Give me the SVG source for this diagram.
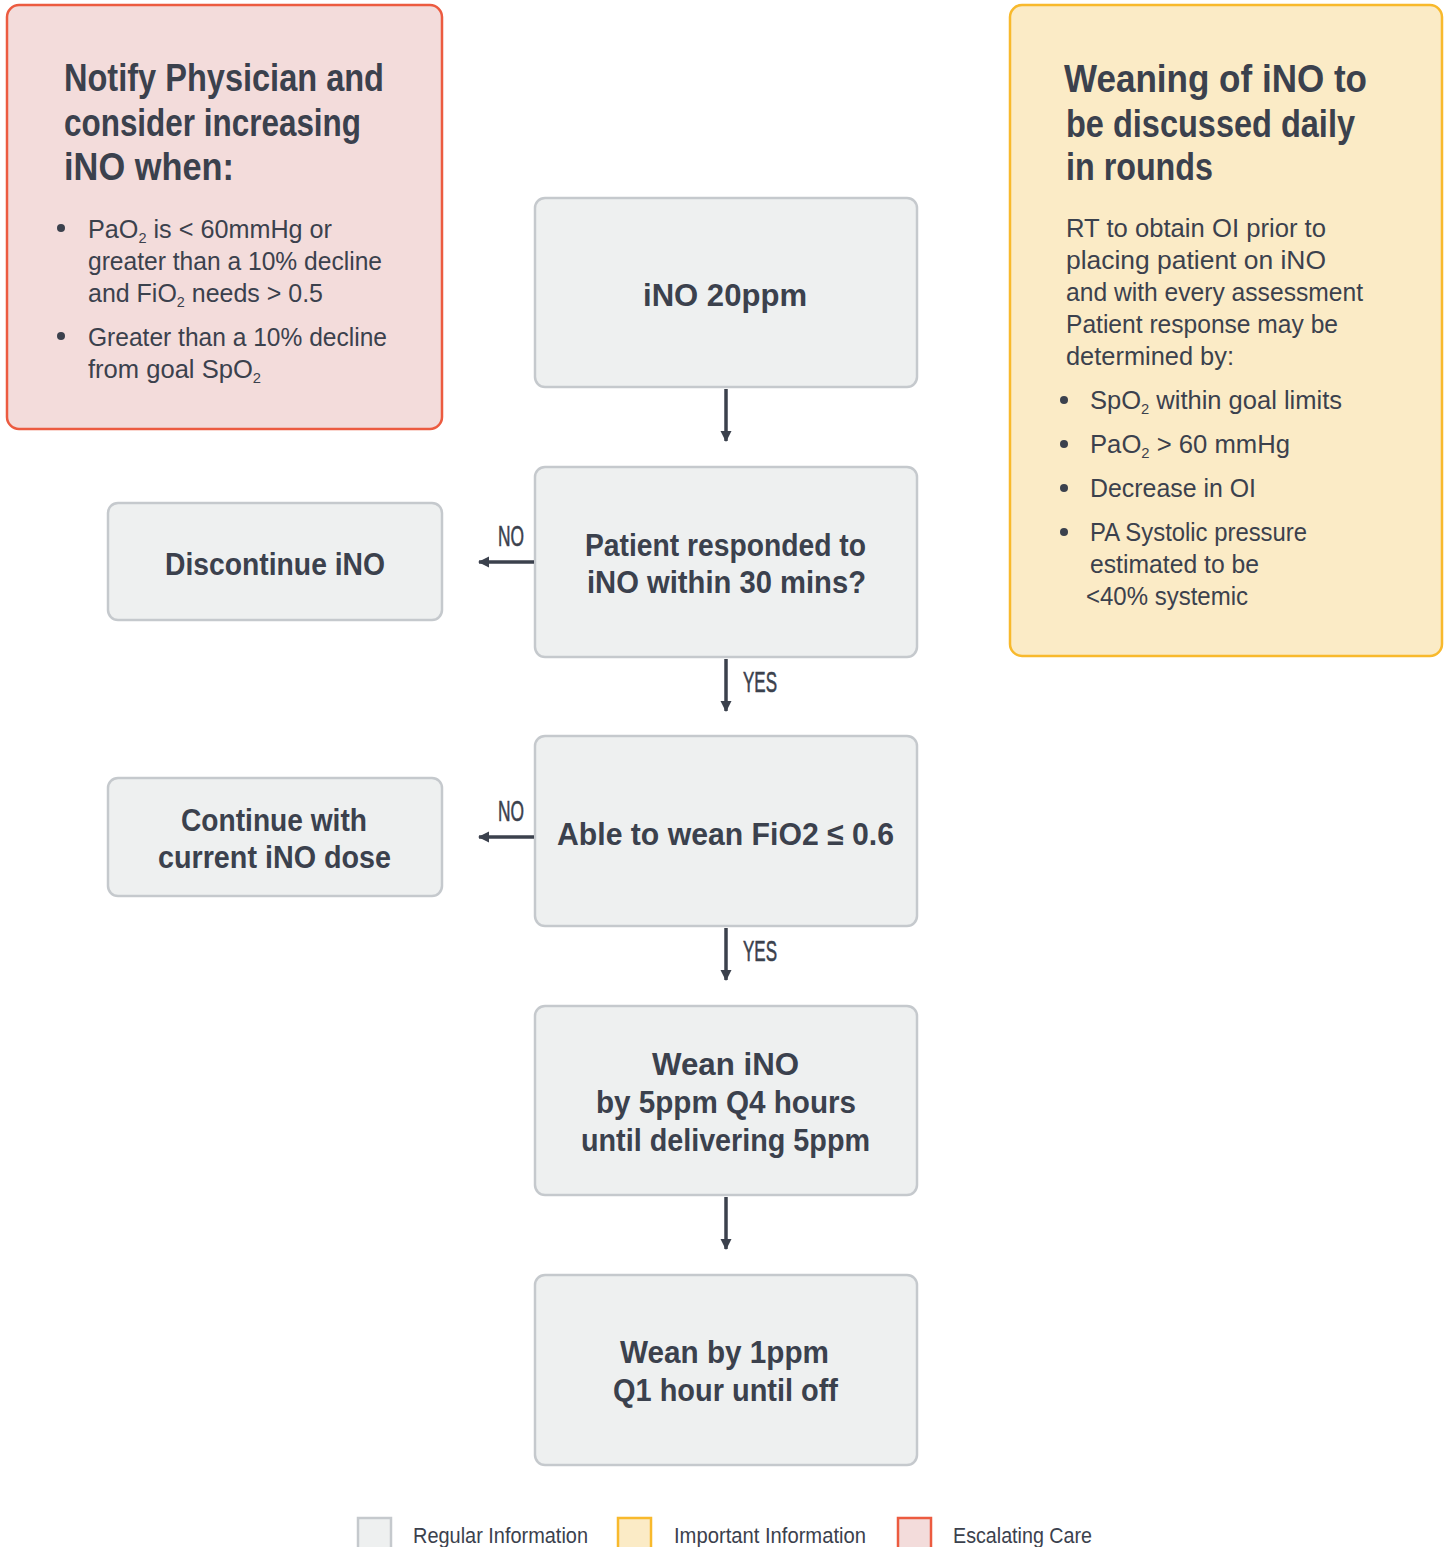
<svg xmlns="http://www.w3.org/2000/svg" width="1444" height="1547" viewBox="0 0 1444 1547">
<style>
.t{font-family:"Liberation Sans",Arial,sans-serif;fill:#3B414D}
.h{font-weight:bold;font-size:38px}
.n{font-weight:bold;font-size:32px}
.b{font-size:26px}
.lab{font-family:"Liberation Sans Narrow","Liberation Sans",Arial,sans-serif;font-size:30px;fill:#3B414D;stroke:#3B414D;stroke-width:0.6}
.lg{font-size:22px}
.gray{fill:#EEF0F0;stroke:#C5C9CD;stroke-width:2.5}
.pink{fill:#F3DCDB;stroke:#EC5B40;stroke-width:2.5}
.yel{fill:#FBEBC6;stroke:#F8B92C;stroke-width:2.5}
.conn{stroke:#3B414D;stroke-width:3.5;fill:none}
.dot{fill:#3B414D}
</style>
<defs>
<marker id="ah" markerWidth="12" markerHeight="12" refX="10" refY="6" orient="auto" markerUnits="userSpaceOnUse">
<path d="M0,0.5 L11,6 L0,11.5 Z" fill="#3B414D"/>
</marker>
</defs>
<rect width="1444" height="1547" fill="#FFFFFF"/>

<g id="escalate">
<rect class="pink" x="7" y="5" width="435" height="424" rx="12"/>
<text class="t h" x="64" y="91" textLength="320" lengthAdjust="spacingAndGlyphs">Notify Physician and</text>
<text class="t h" x="64" y="136" textLength="297" lengthAdjust="spacingAndGlyphs">consider increasing</text>
<text class="t h" x="64" y="180" textLength="170" lengthAdjust="spacingAndGlyphs">iNO when:</text>
<circle class="dot" cx="61" cy="228" r="4"/>
<circle class="dot" cx="61" cy="336" r="4"/>
<text class="t b" x="88" y="238" textLength="244" lengthAdjust="spacingAndGlyphs">PaO<tspan font-size="15" dy="5">2</tspan><tspan dy="-5"> is &lt; 60mmHg or</tspan></text>
<text class="t b" x="88" y="270" textLength="294" lengthAdjust="spacingAndGlyphs">greater than a 10% decline</text>
<text class="t b" x="88" y="302" textLength="235" lengthAdjust="spacingAndGlyphs">and FiO<tspan font-size="15" dy="5">2</tspan><tspan dy="-5"> needs &gt; 0.5</tspan></text>
<text class="t b" x="88" y="346" textLength="299" lengthAdjust="spacingAndGlyphs">Greater than a 10% decline</text>
<text class="t b" x="88" y="378" textLength="173" lengthAdjust="spacingAndGlyphs">from goal SpO<tspan font-size="15" dy="5">2</tspan></text>
</g>

<g id="weaning-note">
<rect class="yel" x="1010" y="5" width="432" height="651" rx="12"/>
<text class="t h" x="1064" y="92" textLength="303" lengthAdjust="spacingAndGlyphs">Weaning of iNO to</text>
<text class="t h" x="1066" y="137" textLength="289" lengthAdjust="spacingAndGlyphs">be discussed daily</text>
<text class="t h" x="1066" y="180" textLength="147" lengthAdjust="spacingAndGlyphs">in rounds</text>
<text class="t b" x="1066" y="237" textLength="260" lengthAdjust="spacingAndGlyphs">RT to obtain OI prior to</text>
<text class="t b" x="1066" y="269" textLength="260" lengthAdjust="spacingAndGlyphs">placing patient on iNO</text>
<text class="t b" x="1066" y="301" textLength="297" lengthAdjust="spacingAndGlyphs">and with every assessment</text>
<text class="t b" x="1066" y="333" textLength="272" lengthAdjust="spacingAndGlyphs">Patient response may be</text>
<text class="t b" x="1066" y="365" textLength="168" lengthAdjust="spacingAndGlyphs">determined by:</text>
<circle class="dot" cx="1064" cy="400" r="4"/>
<circle class="dot" cx="1064" cy="444" r="4"/>
<circle class="dot" cx="1064" cy="488" r="4"/>
<circle class="dot" cx="1064" cy="532" r="4"/>
<text class="t b" x="1090" y="409" textLength="252" lengthAdjust="spacingAndGlyphs">SpO<tspan font-size="15" dy="5">2</tspan><tspan dy="-5"> within goal limits</tspan></text>
<text class="t b" x="1090" y="453" textLength="200" lengthAdjust="spacingAndGlyphs">PaO<tspan font-size="15" dy="5">2</tspan><tspan dy="-5"> &gt; 60 mmHg</tspan></text>
<text class="t b" x="1090" y="497" textLength="166" lengthAdjust="spacingAndGlyphs">Decrease in OI</text>
<text class="t b" x="1090" y="541" textLength="217" lengthAdjust="spacingAndGlyphs">PA Systolic pressure</text>
<text class="t b" x="1090" y="573" textLength="169" lengthAdjust="spacingAndGlyphs">estimated to be</text>
<text class="t b" x="1086" y="605" textLength="162" lengthAdjust="spacingAndGlyphs">&lt;40% systemic</text>
</g>

<g id="n1">
<rect class="gray" x="535" y="198" width="382" height="189" rx="10"/>
<text class="t n" x="643" y="306" textLength="164" lengthAdjust="spacingAndGlyphs">iNO 20ppm</text>
</g>
<g id="n2">
<rect class="gray" x="535" y="467" width="382" height="190" rx="10"/>
<text class="t n" x="585" y="556" textLength="281" lengthAdjust="spacingAndGlyphs">Patient responded to</text>
<text class="t n" x="587" y="593" textLength="279" lengthAdjust="spacingAndGlyphs">iNO within 30 mins?</text>
</g>
<g id="n3">
<rect class="gray" x="535" y="736" width="382" height="190" rx="10"/>
<text class="t n" x="557" y="845" textLength="337" lengthAdjust="spacingAndGlyphs">Able to wean FiO2 ≤ 0.6</text>
</g>
<g id="n4">
<rect class="gray" x="535" y="1006" width="382" height="189" rx="10"/>
<text class="t n" x="652" y="1075" textLength="147" lengthAdjust="spacingAndGlyphs">Wean iNO</text>
<text class="t n" x="596" y="1113" textLength="260" lengthAdjust="spacingAndGlyphs">by 5ppm Q4 hours</text>
<text class="t n" x="581" y="1151" textLength="289" lengthAdjust="spacingAndGlyphs">until delivering 5ppm</text>
</g>
<g id="n5">
<rect class="gray" x="535" y="1275" width="382" height="190" rx="10"/>
<text class="t n" x="620" y="1363" textLength="209" lengthAdjust="spacingAndGlyphs">Wean by 1ppm</text>
<text class="t n" x="613" y="1401" textLength="225" lengthAdjust="spacingAndGlyphs">Q1 hour until off</text>
</g>
<g id="n6">
<rect class="gray" x="108" y="503" width="334" height="117" rx="10"/>
<text class="t n" x="165" y="575" textLength="220" lengthAdjust="spacingAndGlyphs">Discontinue iNO</text>
</g>
<g id="n7">
<rect class="gray" x="108" y="778" width="334" height="118" rx="10"/>
<text class="t n" x="181" y="831" textLength="186" lengthAdjust="spacingAndGlyphs">Continue with</text>
<text class="t n" x="158" y="868" textLength="233" lengthAdjust="spacingAndGlyphs">current iNO dose</text>
</g>

<g id="connectors">
<line class="conn" x1="726" y1="389" x2="726" y2="441" marker-end="url(#ah)"/>
<line class="conn" x1="726" y1="659" x2="726" y2="711" marker-end="url(#ah)"/>
<line class="conn" x1="726" y1="928" x2="726" y2="980" marker-end="url(#ah)"/>
<line class="conn" x1="726" y1="1197" x2="726" y2="1249" marker-end="url(#ah)"/>
<line class="conn" x1="534" y1="562" x2="479" y2="562" marker-end="url(#ah)"/>
<line class="conn" x1="534" y1="837" x2="479" y2="837" marker-end="url(#ah)"/>
<text class="lab" x="498" y="546" textLength="26" lengthAdjust="spacingAndGlyphs">NO</text>
<text class="lab" x="498" y="821" textLength="26" lengthAdjust="spacingAndGlyphs">NO</text>
<text class="lab" x="743" y="692" textLength="34" lengthAdjust="spacingAndGlyphs">YES</text>
<text class="lab" x="743" y="961" textLength="34" lengthAdjust="spacingAndGlyphs">YES</text>
</g>

<g id="legend">
<rect class="gray" x="358" y="1518" width="33" height="40"/>
<rect class="yel" x="618" y="1518" width="33" height="40"/>
<rect class="pink" x="898" y="1518" width="33" height="40"/>
<text class="t lg" x="413" y="1543" textLength="175" lengthAdjust="spacingAndGlyphs">Regular Information</text>
<text class="t lg" x="674" y="1543" textLength="192" lengthAdjust="spacingAndGlyphs">Important Information</text>
<text class="t lg" x="953" y="1543" textLength="139" lengthAdjust="spacingAndGlyphs">Escalating Care</text>
</g>
</svg>
